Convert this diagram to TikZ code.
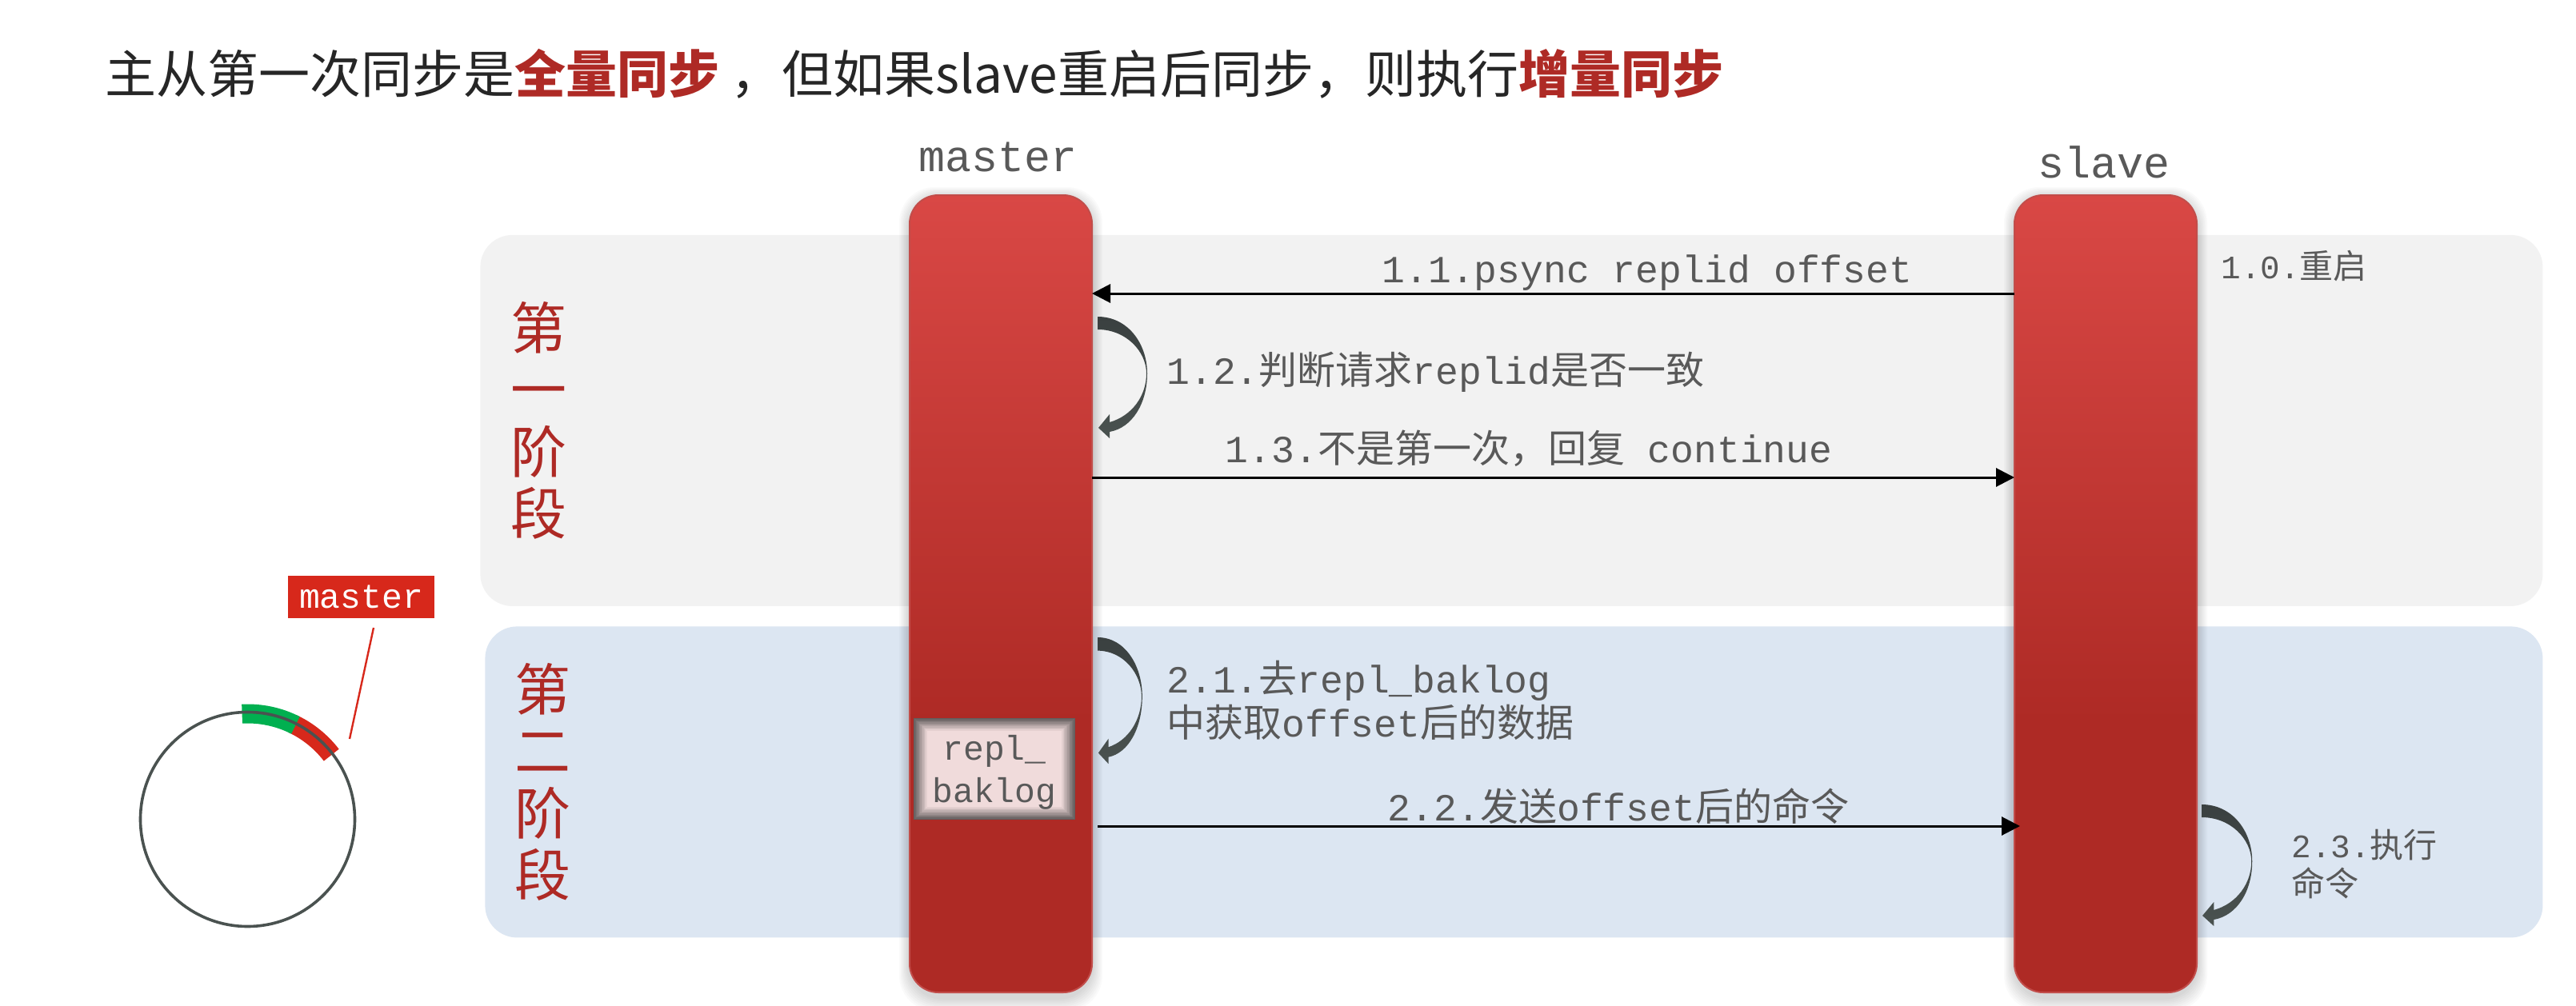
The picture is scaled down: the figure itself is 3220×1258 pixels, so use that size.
\documentclass[tikz,border=0pt]{standalone}
\usepackage{fontspec}
\setmainfont{Noto Sans CJK SC}
\newfontfamily\monof{Liberation Mono}
\usetikzlibrary{arrows.meta}
\definecolor{txt}{HTML}{595959}
\definecolor{titletxt}{HTML}{262626}
\definecolor{deepred}{HTML}{AE2A25}
\definecolor{tagred}{HTML}{D7281B}
\definecolor{ringgray}{HTML}{4A5250}
\definecolor{boxpink}{HTML}{F0DBDB}
\definecolor{boxedge}{HTML}{625C5C}
\definecolor{curltop}{HTML}{3A4040}
\definecolor{curlbot}{HTML}{4A5250}
\definecolor{panelgray}{HTML}{F2F2F2}
\definecolor{panelblue}{HTML}{DCE6F2}
\definecolor{bandgreen}{HTML}{00B050}
\definecolor{barline}{HTML}{C24D4A}
\pgfdeclareverticalshading{barshade}{100bp}{rgb(0bp)=(0.682,0.165,0.145);rgb(42bp)=(0.682,0.165,0.145);rgb(75bp)=(0.851,0.282,0.271);rgb(100bp)=(0.851,0.282,0.271)}
\newcommand{\mn}[1]{{\monof\fontsize{24}{27.5}\selectfont #1}}
\newcommand{\mns}[1]{{\monof\fontsize{20.5}{24}\selectfont #1}}
\newcommand{\barshadow}[2]{\foreach \i in {1,...,8}{\fill[black,opacity=.018,rounded corners=22pt] ({#1-1.5*\i},{246-1.5*\i}) rectangle ({#2+1.5*\i},{1248+2*\i});}}
\newcommand{\curl}[4]{\shade[top color=curltop,bottom color=curlbot,shift={(#1,#2)},xscale=#3,yscale=#4] (0,0) .. controls (38,0) and (62,34) .. (62,71) .. controls (62,109) and (43,139) .. (15,144) -- (15,152) -- (1,139) -- (15,122) -- (15,132) .. controls (43,124) and (61,99) .. (61,71) .. controls (61,44) and (36,16) .. (0,16) -- cycle;}
\tikzset{
  panelbox/.style={rectangle,rounded corners=20pt,inner sep=0pt,anchor=north west},
  barnode/.style={rectangle,rounded corners=18pt,shade,shading=barshade,draw=barline,line width=1pt,inner sep=0pt,outer sep=0pt,minimum width=114pt,minimum height=498.5pt,anchor=north},
  lbl/.style={text=txt,inner sep=0pt,font=\fontsize{24}{27.5}\selectfont,align=left},
  headtxt/.style={text=txt,inner sep=0pt,font=\fontsize{27.5}{30}\selectfont\monof},
  phasetxt/.style={text=deepred,inner sep=0pt,align=center,font=\fontsize{35}{38.7}\selectfont},
  smalllbl/.style={text=txt,inner sep=0pt,align=left,anchor=west,font=\fontsize{21}{24}\selectfont},
  conn/.style={draw=black,line width=1.5pt,-{Triangle[length=11.5pt,width=11.5pt]}},
}
\begin{document}
\begin{tikzpicture}[x=0.5pt,y=-0.5pt]
\useasboundingbox (0,0) rectangle (3220,1258);
\fill[white] (0,0) rectangle (3220,1258);
% panels
\node[panelbox,fill=panelgray,minimum width=1289pt,minimum height=232pt] (phaseone) at (600,293.5) {};
\node[panelbox,fill=panelblue,minimum width=1286pt,minimum height=194.5pt] (phasetwo) at (606,783) {};
% title
\node[anchor=west,inner sep=0pt,text=titletxt,font=\fontsize{32}{36}\selectfont] (title) at (131,92) {主从第一次同步是{\bfseries\color{deepred}全量同步} ，但如果slave重启后同步，则执行{\bfseries\color{deepred}增量同步}};
\node[phasetxt] (phaseonelabel) at (673,526) {第\\一\\阶\\段};
\node[phasetxt] (phasetwolabel) at (678,978) {第\\二\\阶\\段};
% bars
\barshadow{1136}{1366}
\barshadow{2517}{2747}
\node[barnode] (master) at (1251,244) {};
\node[barnode] (slave) at (2632,244) {};
\node[headtxt] (masterhead) at (1248,196) {master};
\node[headtxt] (slavehead) at (2630,203) {slave};
% repl_baklog box
\foreach \i in {0,...,12}{
  \pgfmathsetmacro{\p}{100*(\i/12)}
  \fill[fill={boxpink!\p!boxedge}] ({1142+1.4*\i},{898+1.3*\i}) rectangle ({1344-1.4*\i},{1025-1.3*\i});
}
\node[inner sep=0pt,align=center,text=txt,font=\fontsize{21.5}{26.5}\selectfont\monof] (repl) at (1243,966) {repl\_\\baklog};
% connectors
\coordinate (yone) at (0,367);
\coordinate (ythree) at (0,597);
\coordinate (replout) at (1372,1033);
\coordinate (slavein) at (2525,1033);
\draw[conn] (slave.west |- yone) -- (master.east |- yone);
\draw[conn] (master.east |- ythree) -- (slave.west |- ythree);
\draw[conn] (replout) -- (slavein);
% self loops
\curl{1372}{396}{1}{1}
\curl{1372}{797}{0.9}{1.04}
\curl{2752}{1006}{1.02}{1}
% labels
\node[lbl] (labelone) at (2059,341) {\mn{1.1.psync replid offset}};
\node[lbl,anchor=west] (labeltwo) at (1458,465) {\mn{1.2.}判断请求\mn{replid}是否一致};
\node[lbl] (labelthree) at (1911,561) {\mn{1.3.}不是第一次，回复\mn{ continue}};
\node[lbl,anchor=west] (labelfour) at (1458,876) {\mn{2.1.}去\mn{repl\_baklog}\\中获取\mn{offset}后的数据};
\node[lbl] (labelfive) at (2023,1008) {\mn{2.2.}发送\mn{offset}后的命令};
\node[smalllbl] (restart) at (2776,333) {\mns{1.0.}重启};
\node[smalllbl] (exec) at (2864,1081) {\mns{2.3.}执行\\命令};
% ring buffer
\node[circle,draw=none,minimum size=134pt,inner sep=0pt] (ring) at (309.5,1024.5) {};
\draw[tagred,line width=12pt] (ring.center) ++(65:66pt) arc[start angle=65,end angle=37.5,radius=66pt];
\draw[bandgreen,line width=12pt] (ring.center) ++(93:66pt) arc[start angle=93,end angle=63,radius=66pt];
\node[circle,draw=ringgray,line width=1.8pt,minimum size=134pt,inner sep=0pt] (ringline) at (309.5,1024.5) {};
\node[fill=tagred,text=white,inner sep=0pt,minimum width=91.5pt,minimum height=26.5pt,font=\fontsize{21.5}{24}\selectfont\monof] (tag) at (451.5,746.5) {master};
\coordinate (tagfoot) at (467,785);
\coordinate (ringmark) at (437,924);
\draw[tagred,line width=1.2pt] (tagfoot) -- (ringmark);
\end{tikzpicture}
\end{document}
